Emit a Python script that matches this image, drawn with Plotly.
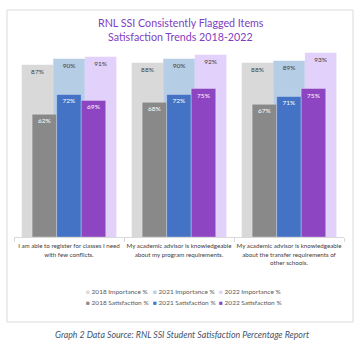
import plotly.graph_objects as go

categories = [
    "I am able to register for classes I need<br>with few conflicts.",
    "My academic advisor is knowledgeable<br>about my program requirements.",
    "My academic advisor is knowledgeable<br>about the transfer requirements of<br>other schools.",
]
imp_2018 = [0.87, 0.88, 0.88]
imp_2021 = [0.90, 0.90, 0.89]
imp_2022 = [0.91, 0.92, 0.93]
sat_2018 = [0.62, 0.68, 0.67]
sat_2021 = [0.72, 0.72, 0.71]
sat_2022 = [0.69, 0.75, 0.75]

FONT = "Lato"
fig = go.Figure()

imp_series = [("2018 Importance %", imp_2018, "#d9d9d9"),
              ("2021 Importance %", imp_2021, "#b6cde6"),
              ("2022 Importance %", imp_2022, "#e2d1fa")]
sat_series = [("2018 Satisfaction %", sat_2018, "#898989"),
              ("2021 Satisfaction %", sat_2021, "#4472c4"),
              ("2022 Satisfaction %", sat_2022, "#8e45c2")]

imp_w = 0.287
imp_off = [-0.43, -0.143, 0.144]
for (name, vals, col), off in zip(imp_series, imp_off):
    fig.add_trace(go.Bar(
        x=categories, y=vals, name=name, width=imp_w, offset=off,
        marker=dict(color=col, line=dict(width=0)),
        texttemplate="%{y:.0%}", textposition="inside", insidetextanchor="end",
        textfont=dict(family=FONT, size=6.5, color="#404040"),
        constraintext="none", showlegend=False, hoverinfo="skip",
    ))

sat_w = 0.223
sat_off = [-0.335, -0.112, 0.111]
for (name, vals, col), off in zip(sat_series, sat_off):
    fig.add_trace(go.Bar(
        x=categories, y=vals, name=name, width=sat_w, offset=off,
        marker=dict(color=col, line=dict(width=0.6, color="rgba(255,255,255,0.5)")),
        texttemplate="%{y:.0%}", textposition="inside", insidetextanchor="end",
        textfont=dict(family=FONT, size=6.5, color="#ffffff"),
        constraintext="none", showlegend=False, hoverinfo="skip",
    ))

# pixel -> paper helpers (plot area: x 14..344, y 39..237)
def px(xp):
    return (xp - 14) / 330.0

def py(yp):
    return (237 - yp) / 198.0

annotations = [
    dict(text="RNL SSI Consistently Flagged Items", xref="paper", yref="paper",
         x=px(180.5), y=py(23), xanchor="center", yanchor="middle",
         showarrow=False, font=dict(family=FONT, size=10.7, color="#8040c0")),
    dict(text="Satisfaction Trends 2018-2022", xref="paper", yref="paper",
         x=px(180.5), y=py(37), xanchor="center", yanchor="middle",
         showarrow=False, font=dict(family=FONT, size=10.7, color="#8040c0")),
    dict(text="<i>Graph 2 Data Source: RNL SSI Student Satisfaction Percentage Report</i>",
         xref="paper", yref="paper", x=px(181.5), y=py(334),
         xanchor="center", yanchor="middle", showarrow=False,
         font=dict(family=FONT, size=8.8, color="#44546a")),
]

# legend entries (two rows of three), built from the series definitions
leg_x = [84, 151, 217]
leg_y = [291, 302]
for row, series in enumerate([imp_series, sat_series]):
    for col_i, (name, _vals, col) in enumerate(series):
        annotations.append(dict(
            text=f"<span style='color:{col}'>■</span> {name}",
            xref="paper", yref="paper", x=px(leg_x[col_i]), y=py(leg_y[row]),
            xanchor="left", yanchor="middle", showarrow=False,
            font=dict(family=FONT, size=6.5, color="#595959"),
        ))

fig.update_layout(
    width=363, height=350,
    margin=dict(l=14, r=19, t=39, b=113),
    paper_bgcolor="white", plot_bgcolor="white",
    barmode="overlay",
    font=dict(family=FONT, color="#595959"),
    showlegend=False,
    xaxis=dict(type="category", range=[-0.5, 2.5], showline=True, linecolor="#d9d9d9",
               linewidth=1, ticks="outside", tickson="boundaries", ticklen=4,
               tickcolor="#d9d9d9", tickangle=0, ticklabelstandoff=3,
               tickfont=dict(family=FONT, size=6.2, color="#404040"),
               showgrid=False, fixedrange=True),
    yaxis=dict(range=[0, 1], visible=False, showgrid=False, fixedrange=True),
    shapes=[dict(type="rect", xref="paper", yref="paper", x0=px(7), x1=px(353),
                 y0=py(322), y1=py(10), line=dict(color="#d9d9d9", width=1),
                 fillcolor="rgba(0,0,0,0)", layer="below")],
    annotations=annotations,
)

fig.write_html("out.html")
